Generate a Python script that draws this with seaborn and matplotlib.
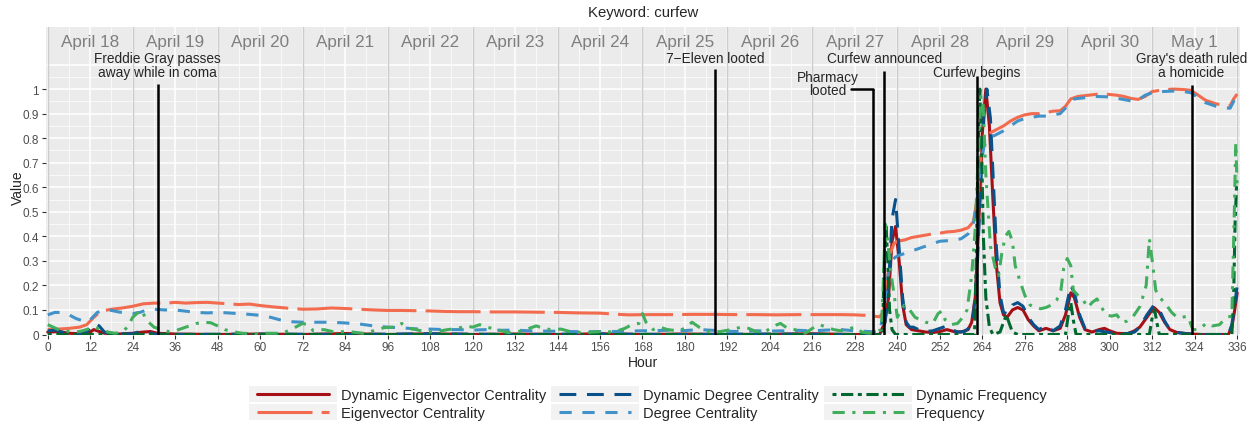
import matplotlib
matplotlib.use("Agg")
import numpy as np
import pandas as pd
import matplotlib.pyplot as plt
import seaborn as sns
from matplotlib.lines import Line2D
from matplotlib.patches import Rectangle
from matplotlib.legend_handler import HandlerBase

# --- data (hour, value) ---
dyn_eigen = [(0, 0.01), (3, 0.012), (6, 0.005), (9, 0.003), (12, 0.01), (13, 0.02), (14, 0.015), (16, 0.005),
             (20, 0.002), (24, 0.005), (27, 0.01), (29, 0.012), (31, 0.005), (36, 0.002), (48, 0.0), (60, 0.002),
             (72, 0.0), (84, 0.004), (96, 0.0), (108, 0.003), (120, 0.0), (132, 0.002), (144, 0.0), (156, 0.003),
             (168, 0.0), (180, 0.002), (192, 0.0), (204, 0.001), (216, 0.003), (228, 0.0), (235, 0.0),
             (236.5, 0.05), (237.5, 0.15), (238.5, 0.38), (239.5, 0.44), (240.5, 0.3), (241.5, 0.12), (242.5, 0.04),
             (244, 0.02), (246, 0.015), (248, 0.01), (250, 0.008), (252, 0.012), (254, 0.02), (256, 0.012),
             (258, 0.01), (260, 0.02), (261, 0.05), (262, 0.15), (263, 0.45), (264, 0.82), (265, 1.0), (266, 0.85),
             (267, 0.55), (268, 0.28), (269, 0.13), (270, 0.08), (271, 0.07), (272.5, 0.1), (274, 0.11),
             (275.5, 0.1), (277, 0.06), (278.5, 0.035), (280, 0.015), (282, 0.025), (284, 0.015), (286, 0.025),
             (287.5, 0.08), (289, 0.17), (290, 0.15), (291.5, 0.07), (293, 0.02), (295, 0.01), (297, 0.02),
             (298.5, 0.025), (300, 0.015), (302, 0.005), (305, 0.003), (307, 0.015), (308.5, 0.03), (310.5, 0.07),
             (312.5, 0.11), (314, 0.09), (315.5, 0.05), (317, 0.02), (319, 0.008), (322, 0.003), (326, 0.0),
             (330, 0.0), (333.5, 0.0), (334.5, 0.03), (335.3, 0.1), (336, 0.17)]

eigen = [(0, 0.02), (3, 0.022), (6, 0.025), (9, 0.03), (11, 0.04), (13, 0.07), (15, 0.095), (18, 0.103),
         (21, 0.108), (24, 0.115), (27, 0.125), (30, 0.128), (33, 0.127), (36, 0.131), (39, 0.128), (42, 0.13),
         (45, 0.131), (48, 0.128), (51, 0.125), (54, 0.122), (57, 0.124), (60, 0.118), (64, 0.112), (68, 0.107),
         (72, 0.103), (76, 0.104), (80, 0.108), (84, 0.106), (88, 0.103), (92, 0.1), (96, 0.098), (100, 0.098),
         (104, 0.097), (108, 0.096), (112, 0.094), (116, 0.093), (120, 0.093), (126, 0.092), (132, 0.092),
         (138, 0.091), (144, 0.09), (150, 0.088), (156, 0.087), (160, 0.083), (164, 0.08), (170, 0.081),
         (176, 0.081), (182, 0.082), (188, 0.082), (194, 0.081), (200, 0.081), (206, 0.08), (212, 0.081),
         (218, 0.081), (224, 0.081), (228, 0.08), (231, 0.078), (233, 0.075), (235, 0.072), (236, 0.09),
         (237, 0.2), (238, 0.33), (239, 0.37), (240, 0.38), (242, 0.385), (244, 0.395), (246, 0.4), (248, 0.405),
         (250, 0.41), (252, 0.413), (254, 0.418), (256, 0.42), (258, 0.425), (260, 0.435), (261.5, 0.46),
         (262.5, 0.55), (263.5, 0.72), (264.5, 0.8), (266, 0.82), (268, 0.835), (270, 0.85), (272, 0.87),
         (274, 0.885), (276, 0.895), (278, 0.9), (280, 0.9), (282, 0.905), (284, 0.91), (286, 0.912),
         (287.5, 0.93), (289, 0.96), (291, 0.97), (294, 0.975), (297, 0.98), (300, 0.978), (302, 0.975),
         (304, 0.97), (306, 0.962), (308, 0.958), (310, 0.97), (312, 0.99), (315, 0.997), (318, 1.0),
         (321, 0.998), (323, 0.995), (325, 0.975), (327, 0.955), (330, 0.94), (332, 0.935), (334, 0.932),
         (335, 0.96), (336, 0.98)]

dyn_degree = [(0, 0.015), (2, 0.018), (4, 0.01), (6, 0.003), (9, 0.0), (11, 0.01), (12.5, 0.035), (13.5, 0.045),
              (14.5, 0.035), (16, 0.01), (18, 0.002), (24, 0.003), (26, 0.012), (28, 0.008), (30, 0.002),
              (36, 0.0), (60, 0.002), (84, 0.0), (108, 0.003), (132, 0.0), (156, 0.002), (180, 0.0), (204, 0.002),
              (228, 0.0), (235.5, 0.0), (236.5, 0.05), (237.5, 0.2), (238.5, 0.47), (239.5, 0.55), (240.5, 0.35),
              (241.5, 0.15), (242.5, 0.05), (243.5, 0.03), (244.5, 0.03), (246, 0.02), (248, 0.012), (250, 0.015),
              (252, 0.025), (254, 0.035), (255.5, 0.02), (257, 0.01), (259, 0.012), (260.5, 0.03), (261.5, 0.08),
              (262.5, 0.25), (263.5, 0.6), (264.5, 0.9), (265.3, 1.0), (266.3, 0.88), (267.2, 0.6), (268, 0.35),
              (269, 0.16), (270, 0.09), (271, 0.085), (272.5, 0.12), (274, 0.13), (275.5, 0.115), (277, 0.07),
              (278.5, 0.04), (280, 0.02), (282, 0.035), (284, 0.015), (286, 0.035), (287.5, 0.1), (289, 0.2),
              (290, 0.17), (291.5, 0.08), (293, 0.025), (295, 0.012), (297, 0.015), (299, 0.01), (302, 0.004),
              (305, 0.004), (307, 0.01), (308.5, 0.03), (310.5, 0.08), (312.5, 0.12), (314, 0.1), (315.5, 0.055),
              (317, 0.02), (319, 0.008), (322, 0.003), (326, 0.0), (330, 0.0), (333.5, 0.0), (334.5, 0.04),
              (335.3, 0.12), (336, 0.2)]

degree = [(0, 0.08), (2, 0.09), (4, 0.09), (6, 0.08), (8, 0.065), (10, 0.055), (11, 0.05), (12, 0.06), (14, 0.09),
          (16, 0.1), (18, 0.098), (20, 0.092), (22, 0.088), (24, 0.085), (26, 0.09), (28, 0.1), (30, 0.103),
          (33, 0.1), (36, 0.1), (39, 0.095), (42, 0.09), (45, 0.088), (48, 0.09), (51, 0.088), (54, 0.085),
          (57, 0.082), (60, 0.078), (63, 0.07), (66, 0.058), (69, 0.052), (72, 0.05), (76, 0.05), (80, 0.05),
          (84, 0.047), (88, 0.043), (92, 0.035), (96, 0.03), (100, 0.027), (104, 0.023), (108, 0.022), (112, 0.02),
          (116, 0.02), (120, 0.018), (124, 0.02), (128, 0.017), (132, 0.018), (136, 0.015), (140, 0.014),
          (144, 0.013), (148, 0.012), (152, 0.011), (156, 0.012), (160, 0.012), (164, 0.014), (168, 0.015),
          (172, 0.016), (176, 0.018), (180, 0.016), (184, 0.02), (188, 0.017), (192, 0.013), (196, 0.012),
          (200, 0.015), (204, 0.014), (208, 0.015), (212, 0.017), (216, 0.015), (220, 0.018), (224, 0.02),
          (228, 0.015), (232, 0.012), (235, 0.01), (236, 0.08), (237, 0.2), (238, 0.3), (240, 0.32), (242, 0.33),
          (244, 0.34), (246, 0.35), (248, 0.36), (250, 0.37), (252, 0.38), (254, 0.382), (256, 0.385),
          (258, 0.39), (260, 0.41), (261.5, 0.45), (262.5, 0.55), (263.5, 0.68), (264.5, 0.77), (266, 0.8),
          (268, 0.815), (270, 0.83), (272, 0.85), (274, 0.87), (276, 0.88), (278, 0.885), (280, 0.89),
          (282, 0.89), (284, 0.895), (286, 0.9), (288, 0.93), (290, 0.96), (293, 0.965), (296, 0.97),
          (300, 0.968), (303, 0.96), (306, 0.952), (308, 0.955), (310, 0.975), (312, 0.985), (315, 0.99),
          (318, 0.992), (321, 0.99), (323, 0.985), (325, 0.965), (327, 0.945), (330, 0.93), (332, 0.925),
          (334, 0.922), (335, 0.95), (336, 0.978)]

dyn_freq = [(0, 0.0), (60, 0.0), (120, 0.0), (180, 0.0), (235.8, 0.0), (236.3, 0.3), (236.8, 0.45), (237.3, 0.3),
            (237.8, 0.1), (238.5, 0.02), (239.5, 0.0), (261.8, 0.0), (262.3, 0.3), (262.8, 0.75), (263.3, 1.0),
            (263.8, 0.75), (264.3, 0.4), (265, 0.15), (266, 0.03), (267, 0.0), (269, 0.01), (270, 0.05),
            (270.8, 0.08), (271.5, 0.05), (272.5, 0.01), (274, 0.0), (287.5, 0.0), (288.3, 0.08), (289, 0.13),
            (289.7, 0.06), (290.5, 0.0), (311.2, 0.0), (312, 0.07), (312.7, 0.1), (313.3, 0.05), (314, 0.0),
            (334.5, 0.0), (335.0, 0.15), (335.4, 0.45), (335.8, 0.6), (336.0, 0.58)]

freq = [(0, 0.04), (1.5, 0.03), (3, 0.02), (5, 0.015), (7, 0.01), (9, 0.012), (11, 0.02), (12.5, 0.03),
        (14, 0.025), (15.5, 0.02), (17, 0.01), (19, 0.005), (21, 0.01), (22.5, 0.03), (24, 0.07), (25.5, 0.09),
        (26.5, 0.1), (27.5, 0.07), (28.5, 0.05), (30, 0.03), (32, 0.02), (34, 0.012), (36, 0.015), (38, 0.025),
        (40, 0.035), (42, 0.045), (44, 0.05), (46, 0.048), (48, 0.035), (50, 0.02), (52, 0.012), (55, 0.005),
        (58, 0.003), (62, 0.005), (66, 0.005), (68, 0.015), (70, 0.03), (72, 0.045), (73.5, 0.04), (75, 0.015),
        (78, 0.02), (81, 0.01), (85, 0.012), (89, 0.005), (92, 0.015), (95, 0.028), (98, 0.03), (100, 0.045),
        (102, 0.025), (104, 0.02), (107, 0.01), (110, 0.012), (113, 0.02), (116, 0.025), (118, 0.035),
        (120, 0.03), (122, 0.04), (124, 0.03), (127, 0.02), (130, 0.008), (133, 0.012), (136, 0.025),
        (138, 0.035), (140, 0.025), (142, 0.02), (145, 0.022), (148, 0.01), (152, 0.008), (156, 0.012),
        (160, 0.01), (163, 0.025), (165, 0.04), (167, 0.045), (168, 0.085), (169, 0.05), (171, 0.02),
        (173, 0.03), (175, 0.02), (178, 0.015), (180, 0.025), (182, 0.05), (184, 0.03), (187, 0.01),
        (190, 0.012), (193, 0.02), (196, 0.03), (198, 0.025), (200, 0.012), (203, 0.015), (206, 0.04),
        (207, 0.045), (209, 0.025), (211, 0.02), (214, 0.005), (217, 0.035), (218, 0.04), (220, 0.03),
        (222, 0.02), (224, 0.015), (226, 0.022), (228, 0.03), (230, 0.01), (232, 0.005), (234, 0.01),
        (235.5, 0.02), (236, 0.2), (236.6, 0.45), (237.3, 0.38), (238.2, 0.25), (239.2, 0.15), (240, 0.07),
        (241, 0.1), (242, 0.12), (243.5, 0.1), (245, 0.07), (246.5, 0.06), (248, 0.05), (250, 0.045),
        (251.5, 0.085), (252.5, 0.095), (253.5, 0.06), (255, 0.04), (257, 0.045), (258.5, 0.07), (259.7, 0.1),
        (261, 0.24), (262, 0.43), (262.8, 0.71), (263.6, 0.97), (264.2, 0.95), (265, 0.65), (266.3, 0.36),
        (267.7, 0.27), (268.6, 0.24), (269.5, 0.33), (270.5, 0.4), (271.5, 0.42), (272.5, 0.38), (273.3, 0.28),
        (274.6, 0.22), (276, 0.16), (277.5, 0.12), (279, 0.11), (280.5, 0.105), (282, 0.11), (283.5, 0.12),
        (285, 0.14), (286.2, 0.18), (287, 0.27), (288, 0.31), (289, 0.28), (289.7, 0.18), (291, 0.16),
        (292.5, 0.14), (293.8, 0.11), (295, 0.13), (296.4, 0.145), (297.7, 0.11), (299, 0.08), (300.5, 0.075),
        (302, 0.08), (303.5, 0.05), (305, 0.055), (306.6, 0.073), (308.6, 0.116), (310.3, 0.2), (311.2, 0.39),
        (312, 0.3), (313, 0.18), (314.2, 0.15), (316, 0.12), (317.5, 0.09), (319, 0.07), (320.5, 0.07),
        (322, 0.075), (323.5, 0.02), (325, 0.02), (327.5, 0.047), (329, 0.035), (331, 0.04), (333, 0.07),
        (334.5, 0.075), (335.2, 0.5), (335.6, 0.78), (336, 0.6)]

series_names = ["Dynamic Eigenvector Centrality", "Eigenvector Centrality",
                "Dynamic Degree Centrality", "Degree Centrality",
                "Dynamic Frequency", "Frequency"]
series_points = [dyn_eigen, eigen, dyn_degree, degree, dyn_freq, freq]

day_labels = ["April 18", "April 19", "April 20", "April 21", "April 22", "April 23", "April 24",
              "April 25", "April 26", "April 27", "April 28", "April 29", "April 30", "May 1"]

event_hours = [31, 188.5, 233.2, 236.3, 262.5, 323.2]
event_labels = ["Freddie Gray passes\naway while in coma", "7\u2212Eleven looted", "Pharmacy\nlooted",
                "Curfew announced", "Curfew begins", "Gray's death ruled\na homicide"]

# --- styles ---
colors = {"Dynamic Eigenvector Centrality": "#A50F15", "Eigenvector Centrality": "#F26B4F",
          "Dynamic Degree Centrality": "#0A5089", "Degree Centrality": "#4092C8",
          "Dynamic Frequency": "#00682F", "Frequency": "#41AE5E"}
dashes = {"Dynamic Eigenvector Centrality": "", "Eigenvector Centrality": (18, 3),
          "Dynamic Degree Centrality": (5.5, 3.5), "Degree Centrality": (4, 3.5),
          "Dynamic Frequency": (1.3, 1.5, 4, 1.5), "Frequency": (4, 2.5, 1, 2.5)}
LW = 2.2


class KeyHandler(HandlerBase):
    # grey key box with a slightly inset line, like ggplot legend keys
    def create_artists(self, legend, orig_handle, xdescent, ydescent, width, height, fontsize, trans):
        box = Rectangle((-xdescent, -ydescent), width, height, facecolor="#F2F2F2",
                        edgecolor="none", transform=trans)
        pad = width * 0.09
        y = -ydescent + height / 2
        ln = Line2D([-xdescent + pad, -xdescent + width - pad], [y, y])
        ln.update_from(orig_handle)
        ln.set_transform(trans)
        return [box, ln]


rows = []
for name, pts in zip(series_names, series_points):
    for h, v in pts:
        rows.append({"hour": h, "value": v, "series": name})
df = pd.DataFrame(rows)

sns.set_theme(style="darkgrid")
plt.rcParams["font.family"] = ["Liberation Sans", "DejaVu Sans"]

fig = plt.figure(figsize=(12.58, 4.27), dpi=100)
ax = fig.add_axes([46 / 1258, 1 - 335.5 / 427, (1240 - 46) / 1258, (335.5 - 28) / 427])
ax.set_facecolor("#EBEBEB")
ax.grid(False)
for s in ax.spines.values():
    s.set_visible(False)

# background grid like ggplot
for y in np.arange(0.05, 1.11, 0.1):
    ax.axhline(y, color="white", lw=0.5, zorder=0)
for y in np.arange(0.0, 1.11, 0.1):
    ax.axhline(y, color="white", lw=1.1, zorder=0)
for x in range(6, 337, 12):
    ax.axvline(x, color="white", lw=0.5, zorder=0)
for x in range(0, 337, 12):
    ax.axvline(x, color="white", lw=1.1, zorder=0)
for x in range(0, 337, 24):
    ax.axvline(x, color="#CCCCCC", lw=1.0, zorder=0.5)

sns.lineplot(data=df, x="hour", y="value", hue="series", style="series",
             hue_order=series_names, style_order=series_names,
             palette=colors, dashes=dashes, linewidth=LW,
             estimator=None, sort=False, legend=False, ax=ax)

ax.set_xlim(-0.5, 336.8)
ax.set_ylim(0, 1.253)
ax.set_xticks(range(0, 337, 12))
ax.set_yticks(np.round(np.arange(0, 1.01, 0.1), 1))
ax.set_yticklabels(["0"] + [f"{v:.1f}" for v in np.arange(0.1, 0.95, 0.1)] + ["1"])
ax.tick_params(axis="both", which="major", length=3, width=0.8, color="#333333",
               labelsize=8.5, labelcolor="#4D4D4D", pad=2, bottom=True, left=True)
ax.set_xlabel("Hour", fontsize=10, labelpad=1)
ax.set_ylabel("Value", fontsize=10)
ax.yaxis.set_label_coords(-0.018, 0.48)

# day strip labels
for i, lab in enumerate(day_labels):
    ax.text(12 + 24 * i, 1.195, lab, ha="center", va="center", fontsize=12.3, color="#7F7F7F")

# event annotations
text_y = [1.098, 1.125, 1.022, 1.125, 1.068, 1.098]
line_top = [1.02, 1.08, 1.0, 1.075, 1.053, 1.015]
text_x = [31, 188.5, 220.4, 236.3, 262.5, 323.0]
for h, lab, ty, lt, tx in zip(event_hours, event_labels, text_y, line_top, text_x):
    ax.plot([h, h], [0, lt], color="black", lw=1.8, zorder=6, solid_capstyle="butt")
    ax.text(tx, ty, lab, ha="center", va="center", fontsize=9.8, linespacing=0.95, zorder=7)
# connector for the pharmacy label
ax.plot([227.0, event_hours[2]], [1.0, 1.0], color="black", lw=1.8, zorder=6)

fig.text(643 / 1258, 1 - 13 / 427, "Keyword: curfew", ha="center", va="center", fontsize=10.7)

# legend with grey key backgrounds
handles = []
for name in series_names:
    ln = Line2D([], [], color=colors[name], lw=LW)
    if dashes[name]:
        ln.set_dashes(dashes[name])
    handles.append(ln)
fig.legend(handles, series_names, handler_map={Line2D: KeyHandler()},
           loc="center", bbox_to_anchor=(648 / 1258, 1 - 404 / 427), ncol=3, frameon=False,
           fontsize=10.5, handlelength=6.0, handleheight=1.35, handletextpad=0.3,
           columnspacing=0.35, labelspacing=0.08, borderpad=0)

fig.savefig("out.png", dpi=100)
